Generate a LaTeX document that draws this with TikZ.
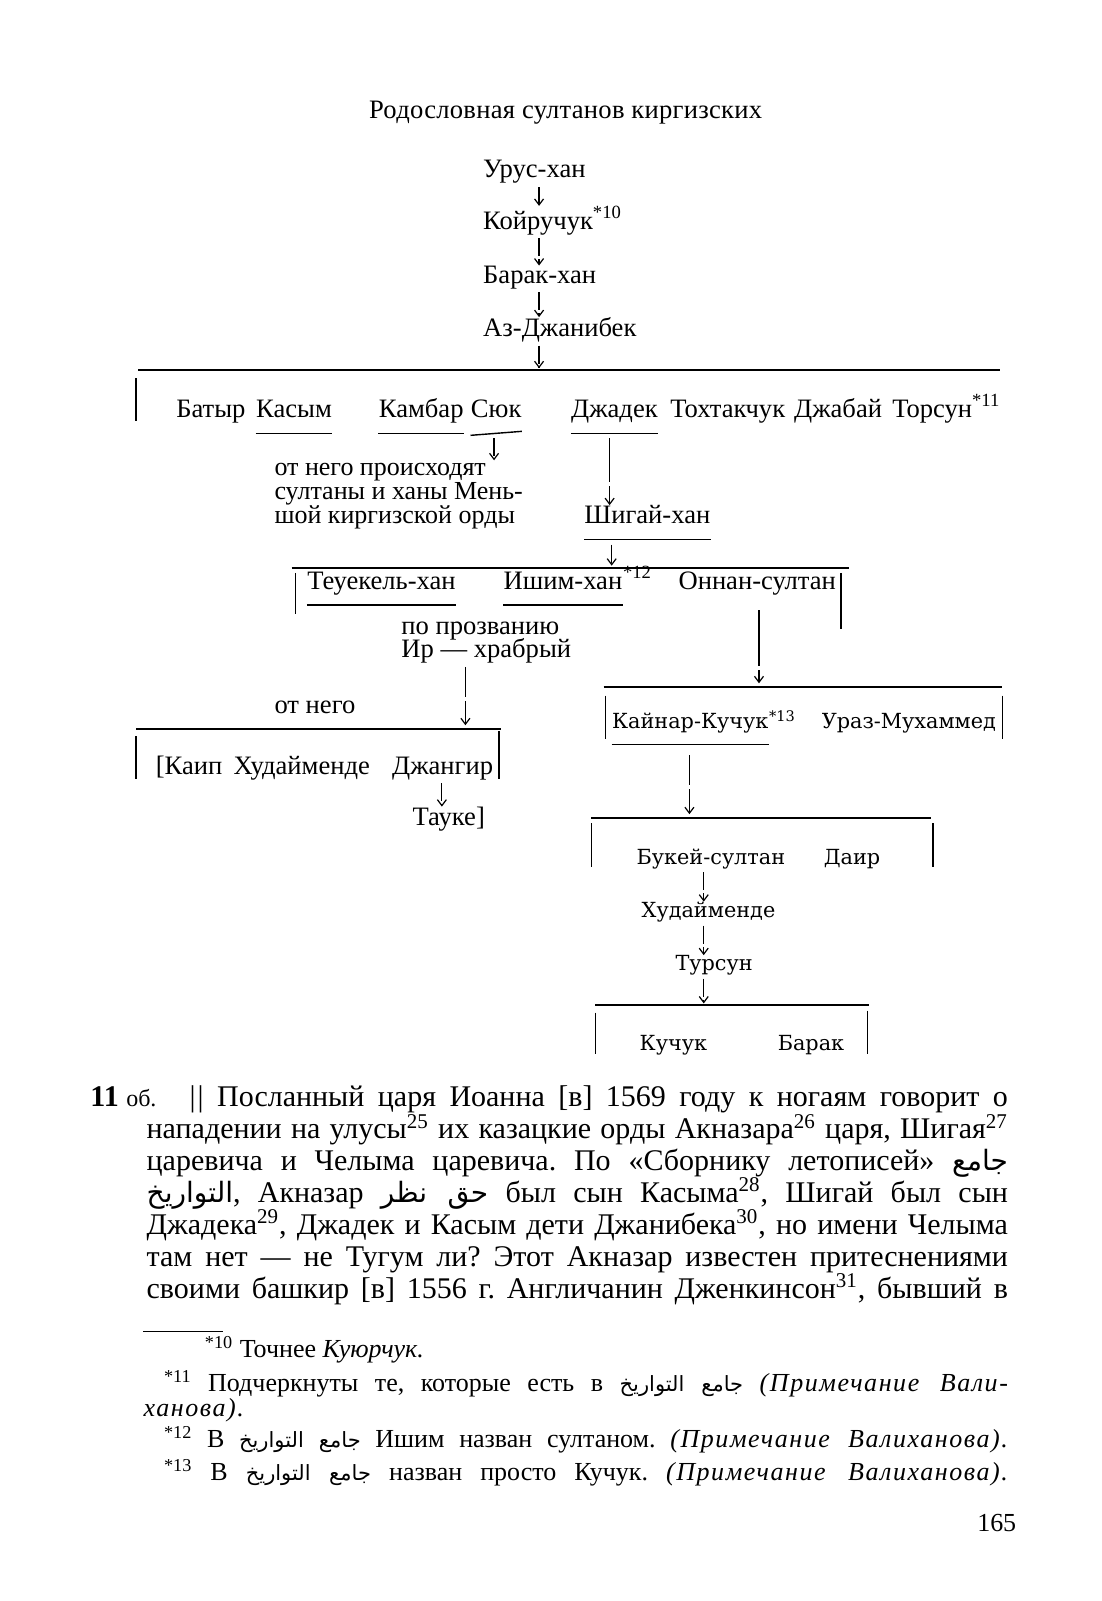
\documentclass[tikz,border=0pt]{standalone}
\usepackage{fontspec}
\setmainfont{Liberation Serif}
\newfontfamily\wideserif{DejaVu Serif}
\newfontfamily\arabicfont[Script=Arabic]{DejaVu Sans}
\TeXXeTstate=1
\frenchspacing
\usetikzlibrary{arrows.meta}
\newcommand{\arb}[1]{{\arabicfont\fontsize{14}{14}\selectfont\beginR #1\endR}}
\newcommand{\arf}[1]{{\arabicfont\fontsize{10.5}{12}\selectfont\beginR #1\endR}}
\newcommand{\spit}[1]{{\itshape\addfontfeature{LetterSpace=6}#1}}
\newcommand{\ssp}[1]{\textsuperscript{#1}}
\newcommand{\ulin}[1]{\draw[ul] ([yshift=-8pt]#1.base west) -- ([yshift=-8pt]#1.base east);}
\newcommand{\bodyline}[1]{\hbox to 430.7pt{#1}}
\begin{document}
\begin{tikzpicture}[x=0.5115pt,y=-0.5115pt,
  every node/.style={inner sep=0pt, anchor=base west},
  dg/.style={font=\fontsize{13.3}{15}\selectfont},
  wd/.style={font=\wideserif\fontsize{10.4}{13}\selectfont},
  bd/.style={font=\fontsize{15}{17}\selectfont},
  fn/.style={font=\fontsize{13}{15}\selectfont},
  conn/.style={line width=0.6pt, dash pattern=on 9pt off 1.5pt, shorten <=1.5pt,
    -{Straight Barb[length=3pt,width=4.5pt]}},
  hl/.style={line width=1pt},
  br/.style={line width=0.7pt},
  ul/.style={line width=0.7pt}]
\useasboundingbox[fill=white] (0,0) rectangle (1077.2,1565.2);

% title
\node[dg, anchor=base] (title) at (553,116) {\addfontfeature{LetterSpace=1}Родословная султанов киргизских};

% main chain
\node[dg] (urus) at (472,174) {Урус-хан};
\node[dg] (koir) at (472,224) {Койручук\ssp{*10}};
\node[dg] (barak) at (472,277) {Барак-хан};
\node[dg] (azj) at (472,329) {Аз-Джанибек};
\coordinate (a1) at (527,360);
\draw[conn] (urus.south -| a1) -- (koir.north -| a1);
\draw[conn] (koir.south -| a1) -- (barak.north -| a1);
\draw[conn] (barak.south -| a1) -- (azj.north -| a1);
\draw[conn] (azj.south -| a1) -- (a1);

% first generation
\draw[hl] (135,362) -- (978,362);
\draw[br] (133,370) -- (133,412);
\node[dg] (batyr) at (172,408) {Батыр};
\node[dg] (kasym) at (250,408) {Касым};
\node[dg] (kambar) at (370,408) {Камбар};
\node[dg] (syuk) at (460,408) {Сюк};
\node[dg] (jadek) at (558,408) {Джадек};
\node[dg] (tokh) at (655,408) {Тохтакчук};
\node[dg] (jabay) at (776,408) {Джабай};
\node[dg] (torsun) at (872,408) {Торсун\ssp{*11}};
\ulin{kasym}
\ulin{kambar}
\draw[ul] ([yshift=-9pt]syuk.base west) -- ([yshift=-7pt]syuk.base east);
\ulin{jadek}

\node[dg, font=\fontsize{13}{15}\selectfont] (ot) at (268,465) {\vtop{\baselineskip=12pt\lineskiplimit=-20pt
  \hbox{от него происходят}\hbox{султаны и ханы Мень-}\hbox{шой киргизской орды}}};
\coordinate (a2) at (483,450);
\draw[conn] ([yshift=-9pt]syuk.base -| a2) -- (a2);

\node[dg] (shigay) at (571,512) {Шигай-хан};
\ulin{shigay}
\coordinate (a3) at (596,497);
\draw[conn, dash pattern=on 22pt off 2pt] ([yshift=-9pt]jadek.base -| a3) -- (shigay.north -| a3);

% sons of Shigay
\coordinate (a4) at (598,553);
\draw[conn] ([yshift=-9pt]shigay.base -| a4) -- (a4);
\draw[hl] (285,555) -- (830,555);
\draw[br] (289,560) -- (289,600);
\draw[br] (822,560) -- (822,615);
\node[dg] (teuk) at (300,576) {Теуекель-хан};
\node[dg] (ishim) at (492,576) {Ишим-хан};
\node[dg] (ishimS) at (ishim.base east) {\ssp{*12}};
\node[dg] (onnan) at (663,576) {Оннан-султан};
\ulin{teuk}
\ulin{ishim}

\node[dg] (po) at (392,620) {\vtop{\baselineskip=11.76pt\lineskiplimit=-20pt
  \hbox{по прозванию}\hbox{Ир — храбрый}}};
\node[dg] (otn) at (268,698) {от него};
\coordinate (a5) at (455,709);
\draw[conn, dash pattern=on 15pt off 2pt] (po.south -| a5) -- (a5);

% sons of Ishim
\draw[hl] (133,713) -- (490,713);
\draw[br] (133,720) -- (133,762);
\draw[br] (488,715) -- (488,762);
\node[dg] (kaip) at (152,757) {[Каип};
\node[dg] (hud1) at (228,757) {Худайменде};
\node[dg] (jang) at (383,757) {Джангир};
\node[dg] (tauke) at (403,807) {Тауке]};
\coordinate (a6) at (432,0);
\draw[conn] (jang.south -| a6) -- (tauke.north -| a6);

% sons of Onnan
\coordinate (a7) at (742,668);
\draw[conn, dash pattern=on 28pt off 2pt] ([yshift=-9pt]onnan.base -| a7) -- (a7);
\draw[hl] (590,672) -- (980,672);
\draw[br] (592,680) -- (592,722);
\draw[br] (980,680) -- (980,722);
\node[wd] (kaynar) at (598,712) {Кайнар-Кучук};
\node[wd] (kaynarS) at (kaynar.base east) {\ssp{*13}};
\node[wd] (uraz) at (803,712) {Ураз-Мухаммед};
\ulin{kaynar}
\coordinate (a8) at (674,796);
\draw[conn, dash pattern=on 15pt off 2pt] ([yshift=-12pt]kaynar.base -| a8) -- (a8);

% sons of Kaynar
\draw[hl] (578,800) -- (910,800);
\draw[br] (578,805) -- (578,848);
\draw[br] (912,805) -- (912,848);
\node[wd] (bukey) at (622,845) {Букей-султан};
\node[wd] (dair) at (805,845) {Даир};
\node[wd] (hud2) at (627,897) {Худайменде};
\node[wd] (tursun) at (660,949) {Турсун};
\coordinate (a9) at (688,981);
\draw[conn] (bukey.south -| a9) -- (hud2.north -| a9);
\draw[conn] (hud2.south -| a9) -- (tursun.north -| a9);
\draw[conn] (tursun.south -| a9) -- (a9);

% sons of Tursun
\draw[hl] (582,983) -- (850,983);
\draw[br] (582,990) -- (582,1030);
\draw[br] (848,988) -- (848,1030);
\node[wd] (kuchuk) at (625,1027) {Кучук};
\node[wd] (barak2) at (760,1027) {Барак};

% body text
\node[bd] (fol) at (88,1082) {\textbf{11} {\fontsize{12}{12}\selectfont об.}};
\node[bd] (para) at (143,1082) {\vtop{\baselineskip=15.94pt\lineskiplimit=-20pt
  \bodyline{\hskip 21.5pt |\kern1pt| Посланный царя Иоанна [в] 1569 году к ногаям говорит о}
  \bodyline{нападении на улусы\ssp{25} их казацкие орды Акназара\ssp{26} царя, Шигая\ssp{27}}
  \bodyline{царевича и Челыма царевича. По «Сборнику летописей» \arb{جامع}}
  \bodyline{\arb{التواريخ}, Акназар \arb{حق نظر} был сын Касыма\ssp{28}, Шигай был сын}
  \bodyline{Джадека\ssp{29}, Джадек и Касым дети Джанибека\ssp{30}, но имени Челыма}
  \bodyline{там нет — не Тугум ли? Этот Акназар известен притеснениями}
  \bodyline{своими башкир [в] 1556 г. Англичанин Дженкинсон\ssp{31}, бывший в}}};

% footnotes
\draw[line width=0.6pt] (140,1302) -- (218,1302);
\node[fn] (f1) at (200,1327) {\ssp{*10} Точнее \textit{Куюрчук.}};
\node[fn] (f2) at (160,1360) {\hbox to 422pt{\ssp{*11} Подчеркнуты те, которые есть в \arf{جامع التواريخ} \spit{(Примечание Вали-}}};
\node[fn] (f3) at (140,1385) {\spit{ханова).}};
\node[fn] (f4) at (160,1415) {\hbox to 422pt{\ssp{*12} В \arf{جامع التواريخ} Ишим назван султаном. \spit{(Примечание Валиханова).}}};
\node[fn] (f5) at (160,1447) {\hbox to 422pt{\ssp{*13} В \arf{جامع التواريخ} назван просто Кучук. \spit{(Примечание Валиханова).}}};
\node[fn] (pg) at (955,1497) {165};
\end{tikzpicture}
\end{document}
